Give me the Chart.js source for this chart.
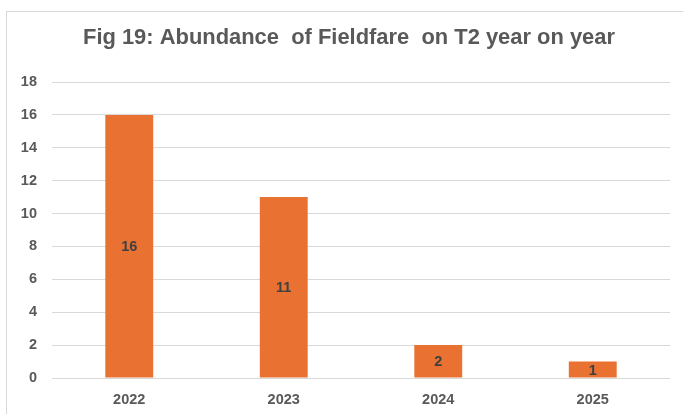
<!DOCTYPE html>
<html>
<head>
<meta charset="utf-8">
<script src="https://cdn.jsdelivr.net/npm/chart.js@4"></script>
<style>
  html, body { margin: 0; padding: 0; background: #fff; }
  #wrap { position: relative; width: 683px; height: 414px; overflow: hidden; }
  #frame { position: absolute; left: 6px; top: 11px; width: 700px; height: 420px;
           border-top: 1px solid #d9d9d9; border-left: 1px solid #d9d9d9; }
  canvas { position: absolute; left: 0; top: 0; }
</style>
</head>
<body>
<div id="wrap">
  <div id="frame"></div>
  <canvas id="chart" width="683" height="414"></canvas>
</div>
<script>
// Fieldfare counts on transect T2, one value per survey year
const years = ['2022', '2023', '2024', '2025'];
const counts = [16, 11, 2, 1];
const yTicks = [0, 2, 4, 6, 8, 10, 12, 14, 16, 18];
const titleText = 'Fig 19: Abundance  of Fieldfare  on T2 year on year';

const tickFont = { family: '"Liberation Sans", Arial, sans-serif', size: 14.5, weight: 'bold' };

// Narrow bold title, squeezed to the width of the original
const narrowTitle = {
  id: 'narrowTitle',
  afterDraw(chart) {
    const ctx = chart.ctx;
    ctx.save();
    ctx.font = 'bold 22px "Liberation Sans", Arial, sans-serif';
    ctx.fillStyle = '#595959';
    ctx.textAlign = 'center';
    ctx.textBaseline = 'alphabetic';
    ctx.fillText(titleText, 349, 44, 532);
    ctx.restore();
  }
};

// Draws the value in the middle of each bar
const barValues = {
  id: 'barValues',
  afterDatasetsDraw(chart) {
    const ctx = chart.ctx;
    const meta = chart.getDatasetMeta(0);
    ctx.save();
    ctx.font = 'bold 14.5px "Liberation Sans", Arial, sans-serif';
    ctx.fillStyle = '#404040';
    ctx.textAlign = 'center';
    ctx.textBaseline = 'middle';
    meta.data.forEach((bar, i) => {
      const mid = (bar.y + bar.base) / 2 + 1;
      ctx.fillText(String(counts[i]), bar.x, mid);
    });
    ctx.restore();
  }
};

new Chart(document.getElementById('chart'), {
  type: 'bar',
  data: {
    labels: years,
    datasets: [{
      data: counts,
      backgroundColor: '#E97132',
      barPercentage: 0.31,
      categoryPercentage: 1
    }]
  },
  options: {
    responsive: false,
    animation: false,
    layout: { padding: { top: 82, left: 0, right: 13, bottom: 0 } },
    plugins: {
      legend: { display: false },
      tooltip: { enabled: false },
      title: { display: false }
    },
    scales: {
      x: {
        afterFit(scale) { scale.height = 36; },
        grid: { display: false, drawTicks: false },
        border: { display: false },
        ticks: { color: '#595959', padding: 13, font: tickFont }
      },
      y: {
        min: 0,
        max: 18,
        afterBuildTicks(scale) {
          scale.ticks = yTicks.map(v => ({ value: v }));
        },
        afterFit(scale) { scale.width = 52; },
        grid: { color: '#d9d9d9', drawTicks: false },
        border: { display: false },
        ticks: { color: '#595959', padding: 15, font: tickFont }
      }
    }
  },
  plugins: [barValues, narrowTitle]
});
</script>
</body>
</html>
